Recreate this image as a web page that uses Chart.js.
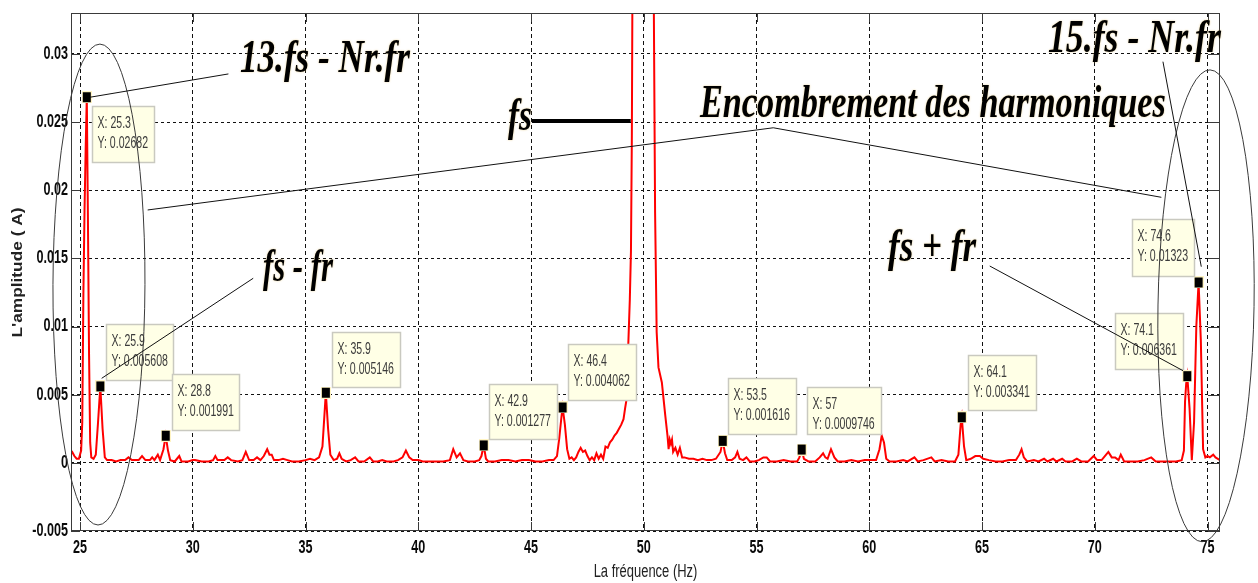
<!DOCTYPE html>
<html>
<head>
<meta charset="utf-8">
<title>Spectre du courant</title>
<script src="https://cdn.jsdelivr.net/npm/chart.js@4.4.1/dist/chart.umd.min.js"></script>
<style>
  html, body { margin: 0; padding: 0; background: #fff; }
  #wrap { width: 1258px; height: 583px; }
</style>
</head>
<body>
<div id="wrap"><canvas id="spectre" width="1258" height="583"></canvas></div>
<script>
// --- Spectrum data (frequency in Hz, amplitude in A) ---
const freqHz = [
  24.60, 24.65, 24.75, 24.85, 24.95, 25.05, 25.10, 25.15, 25.20, 25.25,
  25.30, 25.35, 25.40, 25.45, 25.50, 25.60, 25.70, 25.80, 25.90, 26.00,
  26.10, 26.20, 26.40, 26.60, 26.80, 27.00, 27.15, 27.30, 27.60, 27.75,
  27.90, 28.10, 28.20, 28.30, 28.45, 28.55, 28.70, 28.80, 28.90, 29.00,
  29.20, 29.40, 29.50, 29.80, 30.00, 30.10, 30.40, 30.70, 30.90, 31.00,
  31.10, 31.40, 31.55, 31.70, 32.00, 32.20, 32.35, 32.50, 32.70, 32.85,
  33.00, 33.15, 33.30, 33.40, 33.50, 33.60, 33.80, 34.00, 34.20, 34.40,
  34.70, 35.00, 35.20, 35.40, 35.60, 35.75, 35.90, 36.00, 36.10, 36.25,
  36.40, 36.50, 36.60, 36.80, 37.00, 37.20, 37.35, 37.60, 37.85, 38.00,
  38.20, 38.40, 38.60, 38.90, 39.10, 39.30, 39.45, 39.60, 39.75, 40.00,
  40.20, 40.50, 40.80, 41.10, 41.40, 41.55, 41.70, 41.85, 42.00, 42.20,
  42.50, 42.70, 42.80, 42.90, 43.00, 43.10, 43.40, 43.70, 44.00, 44.30,
  44.60, 44.90, 45.20, 45.50, 45.80, 46.00, 46.15, 46.25, 46.35, 46.40,
  46.50, 46.60, 46.70, 46.80, 46.90, 47.00, 47.10, 47.20, 47.30, 47.40,
  47.50, 47.60, 47.70, 47.80, 47.90, 48.00, 48.10, 48.20, 48.30, 48.40,
  48.50, 48.60, 48.70, 48.80, 48.90, 49.00, 49.10, 49.17, 49.24, 49.31,
  49.38, 49.43, 49.47, 49.52, 49.70, 50.00, 50.30, 50.42, 50.50, 50.57,
  50.65, 50.80, 50.95, 51.05, 51.10, 51.15, 51.20, 51.25, 51.30, 51.40,
  51.50, 51.60, 51.70, 51.80, 52.00, 52.20, 52.40, 52.60, 52.80, 53.00,
  53.20, 53.40, 53.50, 53.60, 53.70, 53.90, 54.05, 54.15, 54.25, 54.40,
  54.55, 54.70, 54.90, 55.10, 55.30, 55.45, 55.60, 55.90, 56.20, 56.50,
  56.80, 56.90, 57.00, 57.10, 57.30, 57.60, 57.80, 57.95, 58.05, 58.15,
  58.30, 58.45, 58.60, 58.90, 59.20, 59.50, 59.80, 60.10, 60.30, 60.45,
  60.55, 60.65, 60.75, 60.90, 61.20, 61.50, 61.70, 62.00, 62.15, 62.40,
  62.75, 62.90, 63.20, 63.50, 63.80, 63.95, 64.05, 64.10, 64.20, 64.30,
  64.50, 64.70, 64.90, 65.05, 65.30, 65.60, 65.90, 66.20, 66.50, 66.65,
  66.75, 66.85, 67.00, 67.30, 67.50, 67.75, 67.90, 68.15, 68.30, 68.55,
  68.70, 69.00, 69.20, 69.40, 69.70, 69.95, 70.10, 70.30, 70.50, 70.60,
  70.75, 70.90, 71.05, 71.15, 71.30, 71.60, 71.90, 72.20, 72.50, 72.70,
  73.00, 73.30, 73.60, 73.85, 73.95, 74.00, 74.05, 74.10, 74.20, 74.30,
  74.40, 74.50, 74.60, 74.70, 74.80, 74.90, 75.00, 75.10, 75.25, 75.35,
  75.55
];
const ampA = [
  0.0009, 0.0008, 0.0005, 0.0003, 0.0003, 0.0009, 0.0030, 0.0125, 0.0185, 0.0230,
  0.02682, 0.0180, 0.0080, 0.0015, 0.0004, 0.0003, 0.0006, 0.0030, 0.005608, 0.0025,
  0.0004, 0.0002, 0.0002, 0.0001, 0.0002, 0.0002, 0.0004, 0.0002, 0.0002, 0.0005,
  0.0002, 0.0002, 0.0004, 0.0002, 0.0006, 0.0002, 0.0010, 0.001991, 0.0009, 0.0002,
  0.0001, 0.0005, 0.0001, 0.0001, 0.0002, 0.0002, 0.0001, 0.0001, 0.0002, 0.0005,
  0.0002, 0.0002, 0.0004, 0.0002, 0.0001, 0.0002, 0.0008, 0.0002, 0.0002, 0.0004,
  0.0002, 0.0005, 0.0010, 0.0006, 0.0006, 0.0002, 0.0002, 0.0003, 0.0002, 0.0001,
  0.0001, 0.0002, 0.0003, 0.0002, 0.0004, 0.0012, 0.005146, 0.0025, 0.0006, 0.0002,
  0.0003, 0.0007, 0.0003, 0.0001, 0.0002, 0.0004, 0.0001, 0.0001, 0.0004, 0.0001,
  0.0001, 0.0002, 0.0001, 0.0001, 0.0002, 0.0004, 0.0009, 0.0004, 0.0002, 0.0002,
  0.0001, 0.0001, 0.0001, 0.0001, 0.0002, 0.0010, 0.0004, 0.0007, 0.0002, 0.0001,
  0.0001, 0.0002, 0.0005, 0.001277, 0.0003, 0.0001, 0.0001, 0.0002, 0.0002, 0.0001,
  0.0002, 0.0002, 0.0001, 0.0001, 0.0002, 0.0002, 0.0005, 0.0018, 0.0034, 0.004062,
  0.0028, 0.0010, 0.0003, 0.0004, 0.0002, 0.0004, 0.0008, 0.0011, 0.0008, 0.0009,
  0.0005, 0.0002, 0.0004, 0.0002, 0.0007, 0.0003, 0.0006, 0.0003, 0.0012, 0.0011,
  0.0015, 0.0017, 0.0020, 0.0022, 0.0025, 0.0028, 0.0032, 0.0040, 0.0047, 0.0086,
  0.0120, 0.0155, 0.0240, 0.0450, 0.2500, 0.9000, 0.2500, 0.0400, 0.0184, 0.0096,
  0.0070, 0.0059, 0.0035, 0.0020, 0.0010, 0.0017, 0.0014, 0.0017, 0.0008, 0.0011,
  0.0006, 0.0011, 0.0004, 0.0004, 0.0003, 0.0003, 0.0002, 0.0003, 0.0002, 0.0002,
  0.0003, 0.0008, 0.001616, 0.0007, 0.0002, 0.0002, 0.0004, 0.0008, 0.0003, 0.0002,
  0.0004, 0.0001, 0.0001, 0.0002, 0.0004, 0.0004, 0.0001, 0.0001, 0.0002, 0.0001,
  0.0001, 0.0004, 0.0009746, 0.0003, 0.0001, 0.0001, 0.0004, 0.0007, 0.0004, 0.0003,
  0.0010, 0.0004, 0.0001, 0.0001, 0.0002, 0.0001, 0.0002, 0.0002, 0.0002, 0.0010,
  0.0020, 0.0015, 0.0003, 0.0001, 0.0001, 0.0002, 0.0001, 0.0004, 0.0001, 0.0002,
  0.0004, 0.0001, 0.0002, 0.0001, 0.0001, 0.0006, 0.0028, 0.003341, 0.0012, 0.0002,
  0.0003, 0.0005, 0.0005, 0.0003, 0.0002, 0.0001, 0.0001, 0.0002, 0.0002, 0.0006,
  0.0010, 0.0004, 0.0001, 0.0002, 0.0001, 0.0003, 0.0001, 0.0003, 0.0001, 0.0003,
  0.0001, 0.0001, 0.0003, 0.0001, 0.0001, 0.0005, 0.0002, 0.0002, 0.0006, 0.0008,
  0.0004, 0.0004, 0.0002, 0.0006, 0.0001, 0.0001, 0.0001, 0.0002, 0.0004, 0.0001,
  0.0001, 0.0001, 0.0001, 0.0002, 0.0009, 0.0045, 0.0058, 0.006361, 0.0040, 0.0002,
  0.0030, 0.0100, 0.01323, 0.0090, 0.0010, 0.0004, 0.0005, 0.0004, 0.0006, 0.0004,
  0.0002
];

// Data tips (X / Y read-outs)
const tipX = [25.3, 25.9, 28.8, 35.9, 42.9, 46.4, 53.5, 57, 64.1, 74.1, 74.6];
const tipY = [0.02682, 0.005608, 0.001991, 0.005146, 0.001277, 0.004062, 0.001616, 0.0009746, 0.003341, 0.006361, 0.01323];

// Axes
const xMin = 24.6, xMax = 75.55;
const yMin = -0.005, yMax = 0.033;
const xTicks = [25, 30, 35, 40, 45, 50, 55, 60, 65, 70, 75];
const yTicks = [-0.005, 0, 0.005, 0.01, 0.015, 0.02, 0.025, 0.03];
const yTickLabels = ['-0.005', '0', '0.005', '0.01', '0.015', '0.02', '0.025', '0.03'];

// Data tip box placement relative to the marker: [dx, dy, width, height] in px
const tipBoxes = [
  [5, 9, 62, 56], [6, -62, 67, 56], [6, -62, 67, 56], [6, -61, 68, 55],
  [5, -61, 68, 55], [5, -63, 68, 56], [5, -63, 68, 56], [5, -63, 74, 47],
  [6, -62, 68, 55], [-72, -63, 68, 56], [-67, -63, 62, 57]
];

// Annotation labels (data coords: left, right, baseline)
const notes = [
  { text: '13.fs - Nr.fr', x0: 32.09, x1: 39.63, y: 0.02867 },
  { text: 'fs - fr', x0: 33.11, x1: 36.22, y: 0.01334 },
  { text: 'fs', x0: 43.98, x1: 45.04, y: 0.02442 },
  { text: 'Encombrement des harmoniques', x0: 52.49, x1: 73.15, y: 0.02537 },
  { text: '15.fs - Nr.fr', x0: 67.92, x1: 75.59, y: 0.03014 },
  { text: 'fs + fr', x0: 60.83, x1: 64.73, y: 0.01481 }
];
// Leader lines (polylines in data coords)
const leaders = [
  [[25.44, 0.02682], [31.58, 0.02853]],
  [[32.68, 0.01354], [25.96, 0.00620]],
  [[65.34, 0.01444], [73.91, 0.00676]],
  [[73.02, 0.02943], [74.72, 0.01439]],
  [[28.0, 0.01855], [55.74, 0.02458], [72.95, 0.01948]]
];
const ellipses = [
  { cx: 25.84, cy: 0.01308, rx: 2.04, ry: 0.01764, rot: 0.004 },
  { cx: 74.93, cy: 0.01152, rx: 2.13, ry: 0.01731, rot: 0.017 }
];

// Black square with a pale halo, like MATLAB's datatip marker
function tipMarker() {
  const c = document.createElement('canvas');
  c.width = 10; c.height = 12;
  const g = c.getContext('2d');
  g.fillStyle = '#fff4c4';
  g.fillRect(0, 0, 10, 12);
  g.fillStyle = '#000';
  g.fillRect(1, 1, 8, 10);
  return c;
}

// Draw text squeezed horizontally by factor k
function squeezed(ctx, text, x, y, k, align) {
  ctx.save();
  ctx.translate(x, y);
  ctx.scale(k, 1);
  ctx.textAlign = align;
  ctx.fillText(text, 0, 0);
  ctx.restore();
}

const matlabAxes = {
  id: 'matlabAxes',
  afterDraw(chart) {
    const { ctx, chartArea: a, scales: { x, y } } = chart;
    const X = v => x.getPixelForValue(v);
    const Y = v => y.getPixelForValue(v);
    ctx.save();

    // axes box and inward ticks
    ctx.strokeStyle = '#3a3a3a';
    ctx.lineWidth = 1;
    ctx.strokeRect(a.left + 0.5, a.top + 0.5, a.right - a.left - 1, a.bottom - a.top - 1);
    ctx.beginPath();
    xTicks.forEach(v => {
      const px = Math.round(X(v)) + 0.5;
      ctx.moveTo(px, a.bottom); ctx.lineTo(px, a.bottom - 9);
      ctx.moveTo(px, a.top); ctx.lineTo(px, a.top + 9);
    });
    yTicks.forEach(v => {
      const py = Math.round(Y(v)) + 0.5;
      ctx.moveTo(a.left, py); ctx.lineTo(a.left + 9, py);
      ctx.moveTo(a.right, py); ctx.lineTo(a.right - 12, py);
    });
    ctx.stroke();

    // tick labels
    ctx.fillStyle = '#0a0a0a';
    ctx.font = 'bold 18px "Liberation Sans", Arial, sans-serif';
    ctx.textBaseline = 'middle';
    xTicks.forEach(v => squeezed(ctx, String(v), X(v), a.bottom + 17, 0.7, 'center'));
    yTicks.forEach((v, i) => squeezed(ctx, yTickLabels[i], a.left - 3, Y(v), 0.7, 'right'));

    // axis titles
    ctx.fillStyle = '#222';
    ctx.font = '18px "Liberation Sans", Arial, sans-serif';
    squeezed(ctx, 'La fréquence (Hz)', (a.left + a.right) / 2, 572, 0.72, 'center');
    ctx.font = 'bold 15px "Liberation Sans", Arial, sans-serif';
    const yTitle = "L'amplitude ( A)";
    ctx.save();
    ctx.translate(18, (a.top + a.bottom) / 2 + 0.5);
    ctx.rotate(-Math.PI / 2);
    squeezed(ctx, yTitle, 0, 0, 130 / ctx.measureText(yTitle).width, 'center');
    ctx.restore();

    // data tip boxes
    ctx.font = '16px "Liberation Sans", Arial, sans-serif';
    tipX.forEach((tx, i) => {
      const [dx, dy, w, h] = tipBoxes[i];
      const bx = Math.round(X(tx) + dx) + 0.5;
      const by = Math.round(Y(tipY[i]) + dy) + 0.5;
      ctx.fillStyle = '#ffffe6';
      ctx.fillRect(bx, by, w, h);
      ctx.strokeStyle = '#c9c9c0';
      ctx.lineWidth = 1.5;
      ctx.strokeRect(bx, by, w, h);
      ctx.fillStyle = '#3b3b3b';
      squeezed(ctx, 'X: ' + tx, bx + 5, by + 17, 0.66, 'left');
      squeezed(ctx, 'Y: ' + tipY[i], bx + 5, by + 37, 0.66, 'left');
    });

    // ellipses and leader lines
    ctx.strokeStyle = '#3a3a3a';
    ctx.lineWidth = 1;
    ellipses.forEach(e => {
      ctx.beginPath();
      ctx.ellipse(X(e.cx), Y(e.cy), X(e.cx + e.rx) - X(e.cx), Y(e.cy - e.ry) - Y(e.cy), e.rot, 0, Math.PI * 2);
      ctx.stroke();
    });
    ctx.strokeStyle = '#111';
    leaders.forEach(pts => {
      ctx.beginPath();
      pts.forEach(([px, py], j) => j ? ctx.lineTo(X(px), Y(py)) : ctx.moveTo(X(px), Y(py)));
      ctx.stroke();
    });
    // thick pointer from "fs" to the fundamental
    ctx.lineWidth = 4;
    ctx.strokeStyle = '#000';
    ctx.beginPath();
    ctx.moveTo(X(45.04), Y(0.02508));
    ctx.lineTo(X(49.42), Y(0.02508));
    ctx.stroke();

    // annotation labels
    ctx.font = 'italic bold 47px "Liberation Serif", "Times New Roman", serif';
    ctx.textBaseline = 'alphabetic';
    ctx.fillStyle = '#000';
    ctx.shadowColor = 'rgba(215, 175, 70, 0.6)';
    ctx.shadowBlur = 2;
    notes.forEach(n => {
      const k = (X(n.x1) - X(n.x0)) / ctx.measureText(n.text).width;
      squeezed(ctx, n.text, X(n.x0), Y(n.y), k, 'left');
    });
    ctx.restore();
  }
};

const ctx = document.getElementById('spectre').getContext('2d');
new Chart(ctx, {
  type: 'line',
  data: {
    datasets: [
      {
        label: 'Spectre',
        data: freqHz.map((f, i) => ({ x: f, y: ampA[i] })),
        borderColor: '#ff0000',
        borderWidth: 2,
        pointRadius: 0,
        tension: 0,
        fill: false,
        order: 1
      },
      {
        label: 'Data tips',
        data: tipX.map((f, i) => ({ x: f, y: tipY[i] })),
        showLine: false,
        pointStyle: tipMarker(),
        pointRadius: 6,
        clip: false,
        order: 0
      }
    ]
  },
  options: {
    responsive: false,
    animation: false,
    events: [],
    layout: { padding: { left: 0, right: 38, top: 13, bottom: 0 } },
    plugins: {
      legend: { display: false },
      tooltip: { enabled: false }
    },
    scales: {
      x: {
        type: 'linear',
        min: xMin,
        max: xMax,
        afterBuildTicks: s => { s.ticks = xTicks.map(v => ({ value: v })); },
        afterFit: s => { s.height = 52; },
        ticks: { display: false },
        grid: { color: '#111', lineWidth: 1, drawTicks: false },
        border: { display: false, dash: [4, 3] }
      },
      y: {
        type: 'linear',
        min: yMin,
        max: yMax,
        afterBuildTicks: s => { s.ticks = yTicks.map(v => ({ value: v })); },
        afterFit: s => { s.width = 71; },
        ticks: { display: false },
        grid: { color: '#111', lineWidth: 1, drawTicks: false },
        border: { display: false, dash: [3, 3] }
      }
    }
  },
  plugins: [matlabAxes]
});
</script>
</body>
</html>
